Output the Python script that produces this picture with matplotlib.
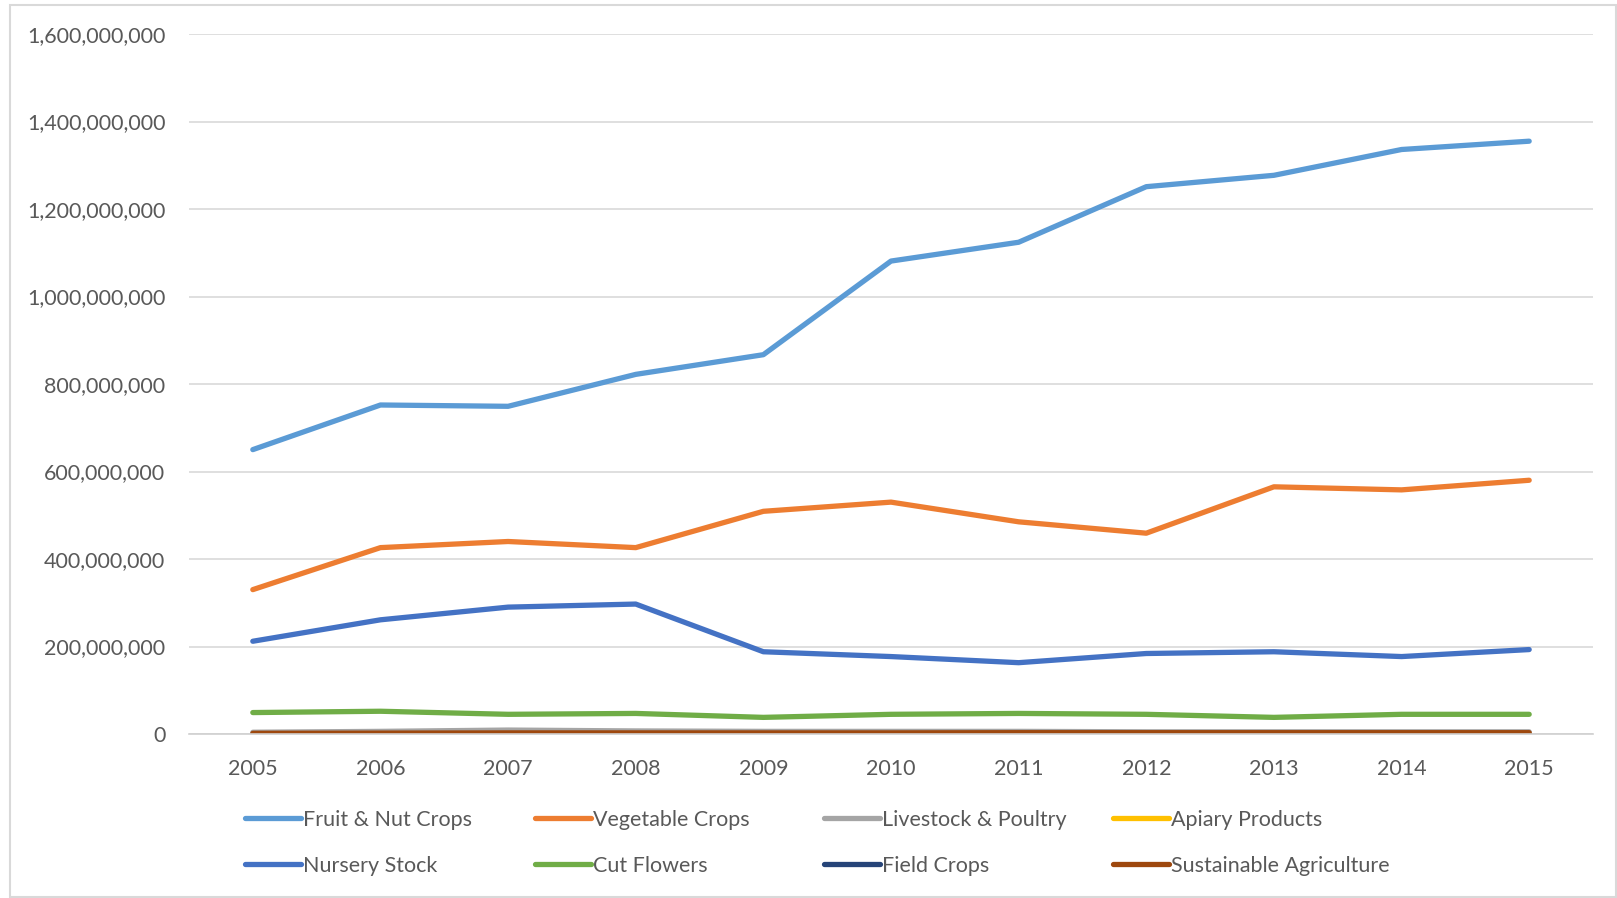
"""Valor de producción agrícola por categoría, 2005-2015."""
import numpy as np
import matplotlib.pyplot as plt
from matplotlib.patches import Rectangle
from matplotlib.ticker import FuncFormatter

plt.rcParams['font.family'] = ['Lato', 'DejaVu Sans']

years = [2005, 2006, 2007, 2008, 2009, 2010, 2011, 2012, 2013, 2014, 2015]

fruit_nut = [650e6, 752e6, 749e6, 822e6, 867e6, 1081e6, 1124e6, 1251e6, 1277e6, 1336e6, 1355e6]
vegetable = [330e6, 426e6, 440e6, 426e6, 509e6, 530e6, 485e6, 459e6, 565e6, 558e6, 580e6]
livestock = [4e6, 6e6, 9e6, 7e6, 6e6, 6e6, 6e6, 5e6, 5e6, 5e6, 5e6]
apiary = [0.5e6, 0.5e6, 0.5e6, 0.5e6, 0.5e6, 0.5e6, 0.5e6, 0.5e6, 0.5e6, 0.5e6, 0.5e6]
nursery = [212e6, 261e6, 290e6, 297e6, 188e6, 177e6, 163e6, 184e6, 188e6, 177e6, 193e6]
cut_flowers = [49e6, 52e6, 45e6, 47e6, 38e6, 45e6, 47e6, 45e6, 38e6, 45e6, 45e6]
field = [1e6, 1e6, 1e6, 1e6, 1e6, 1e6, 1e6, 1e6, 1e6, 1e6, 1e6]
sustainable = [1.5e6, 2e6, 2.5e6, 2.5e6, 2.5e6, 2.5e6, 3e6, 3e6, 3e6, 3e6, 3e6]

series = [
    ('Fruit & Nut Crops', fruit_nut, '#5B9BD5'),
    ('Vegetable Crops', vegetable, '#ED7D31'),
    ('Livestock & Poultry', livestock, '#A5A5A5'),
    ('Apiary Products', apiary, '#FFC000'),
    ('Nursery Stock', nursery, '#4472C4'),
    ('Cut Flowers', cut_flowers, '#70AD47'),
    ('Field Crops', field, '#264478'),
    ('Sustainable Agriculture', sustainable, '#9E480E'),
]

W, H = 1617, 898
fig = plt.figure(figsize=(W / 100, H / 100), dpi=100)

# marco exterior del gráfico
fig.patches.append(Rectangle((10 / W, 1 / H), (W - 11) / W, (H - 6) / H,
                             transform=fig.transFigure, fill=False,
                             edgecolor='#d9d9d9', linewidth=1.5))

ax = fig.add_axes([189 / W, (H - 734) / H, (1593 - 189) / W, 700 / H])

lineas = []
for nombre, valores, color in series:
    l, = ax.plot(years, valores, color=color, lw=3.8, solid_capstyle='round',
                 solid_joinstyle='round', label=nombre)
    lineas.append(l)

ax.set_xlim(2004.5, 2015.5)
ax.set_ylim(0, 1.6e9)
ax.set_xticks(years)
ax.set_yticks(np.arange(0, 1.7e9, 2e8))
ax.yaxis.set_major_formatter(FuncFormatter(lambda v, p: f'{v:,.0f}'))
ax.grid(axis='y', color='#d9d9d9', lw=1.2)
ax.set_axisbelow(True)
for lado in ['top', 'right', 'left']:
    ax.spines[lado].set_visible(False)
ax.spines['bottom'].set_color('#d0d0d0')
ax.spines['bottom'].set_linewidth(1.2)
ax.tick_params(axis='both', length=0, labelsize=15.5, labelcolor='#595959')
ax.tick_params(axis='y', pad=17)
ax.tick_params(axis='x', pad=18)

# leyenda en 4 columnas de ancho fijo, como Excel
x_cols = [245, 535, 824, 1113]
for c, x0 in enumerate(x_cols):
    handles = [lineas[c], lineas[c + 4]]
    leg = fig.legend(handles=handles, labels=[h.get_label() for h in handles],
                     loc='upper left', bbox_to_anchor=(x0 / W, (H - 810) / H),
                     frameon=False, fontsize=15.5, handlelength=2.6,
                     handletextpad=0.08, labelspacing=1.2, borderpad=0,
                     borderaxespad=0)
    for t in leg.get_texts():
        t.set_color('#595959')

fig.savefig('out.png', dpi=100)
